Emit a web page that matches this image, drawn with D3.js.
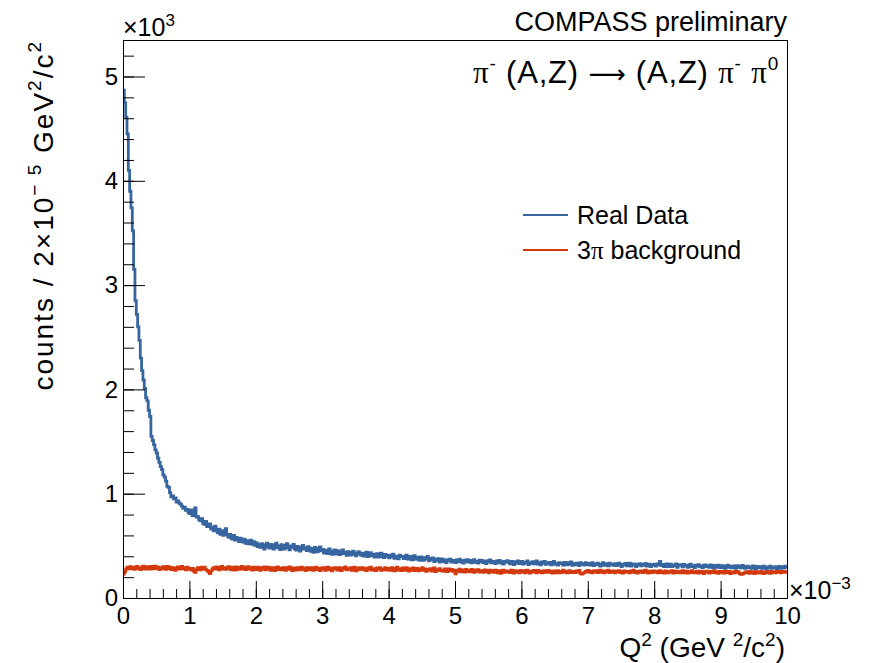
<!DOCTYPE html>
<html>
<head>
<meta charset="utf-8">
<script src="https://cdn.jsdelivr.net/npm/d3@7"></script>
<style>
  body { margin: 0; background: #fff; }
  svg { display: block; }
  text { font-family: "Liberation Sans", Arial, Helvetica, sans-serif; fill: #000; }
</style>
</head>
<body>
<div id="chart"></div>
<script>
// Q^2 axis in units of 1e-3 GeV^2/c^2, 500 bins of 2e-5 GeV^2/c^2
const xMin = 0, xMax = 10;
const yMax = 5350;

// counts per bin
const realData = [
  4870, 4750, 4610, 4450, 4100, 3900, 3740, 3520, 3150, 2850,
  2720, 2600, 2470, 2300, 2180, 2090, 2010, 1920, 1890, 1800,
  1740, 1550, 1510, 1470, 1420, 1390, 1340, 1300, 1260, 1230,
  1180, 1160, 1120, 1070, 1060, 1010, 970, 980, 950, 960,
  920, 930, 910, 900, 880, 860, 870, 840, 850, 820,
  810, 845, 790, 805, 865, 775, 780, 750, 740, 760,
  715, 705, 735, 685, 690, 710, 660, 680, 645, 690,
  650, 625, 660, 610, 645, 600, 630, 665, 605, 585,
  610, 575, 565, 600, 555, 580, 565, 540, 575, 545,
  535, 565, 525, 550, 520, 540, 555, 515, 540, 505,
  530, 492, 515, 485, 520, 498, 470, 512, 525, 488,
  478, 515, 495, 470, 508, 525, 482, 500, 465, 512,
  505, 470, 498, 522, 480, 462, 500, 485, 515, 472,
  460, 495, 478, 450, 488, 505, 468, 482, 455, 492,
  480, 448, 472, 438, 485, 460, 442, 478, 490, 452,
  465, 430, 458, 440, 425, 470, 445, 418, 452, 462,
  420, 455, 432, 415, 448, 462, 425, 440, 410, 445,
  440, 412, 435, 450, 418, 405, 432, 445, 420, 408,
  430, 402, 425, 440, 398, 415, 435, 405, 420, 392,
  415, 425, 392, 410, 430, 398, 388, 418, 400, 412,
  385, 410, 395, 420, 380, 402, 392, 375, 412, 398,
  400, 378, 392, 410, 372, 385, 398, 365, 390, 405,
  370, 392, 380, 360, 395, 375, 362, 388, 372, 398,
  355, 380, 365, 385, 350, 372, 360, 378, 345, 370,
  375, 350, 362, 340, 368, 355, 372, 345, 360, 352,
  340, 365, 350, 372, 345, 358, 335, 362, 350, 368,
  345, 360, 338, 355, 368, 342, 350, 335, 362, 348,
  360, 340, 352, 330, 358, 345, 365, 338, 350, 342,
  330, 355, 340, 360, 335, 348, 325, 352, 342, 358,
  345, 328, 352, 338, 320, 348, 335, 355, 330, 342,
  350, 325, 342, 335, 355, 320, 340, 332, 348, 328,
  340, 355, 325, 338, 318, 345, 332, 350, 322, 338,
  328, 342, 318, 335, 350, 322, 332, 315, 340, 330,
  335, 315, 342, 325, 318, 338, 322, 345, 312, 330,
  318, 335, 325, 310, 340, 322, 330, 315, 338, 320,
  332, 315, 325, 340, 310, 328, 318, 335, 322, 305,
  325, 338, 312, 322, 330, 308, 335, 318, 325, 312,
  330, 310, 322, 335, 315, 302, 325, 318, 332, 308,
  320, 335, 305, 318, 328, 312, 300, 325, 315, 330,
  308, 322, 315, 332, 305, 318, 325, 300, 320, 312,
  325, 305, 318, 330, 350, 310, 322, 300, 315, 328,
  302, 318, 325, 300, 315, 308, 328, 295, 312, 320,
  315, 298, 322, 305, 312, 295, 318, 325, 300, 310,
  292, 315, 305, 320, 298, 308, 290, 312, 318, 300,
  310, 295, 318, 300, 288, 312, 305, 295, 315, 302,
  292, 310, 298, 285, 305, 315, 295, 302, 288, 308,
  300, 285, 310, 295, 305, 290, 312, 298, 285, 302,
  305, 290, 298, 285, 308, 295, 282, 302, 295, 288,
  300, 285, 305, 292, 280, 298, 290, 305, 285, 295,
  288, 300, 282, 295, 302, 285, 298, 290, 305, 295
];

const bkg3pi = [
  228, 250, 278, 295, 280, 300, 282, 296, 275, 290,
  302, 280, 292, 272, 298, 305, 282, 276, 300, 288,
  278, 302, 288, 280, 305, 284, 296, 272, 292, 280,
  300, 285, 275, 302, 282, 296, 272, 290, 280, 265,
  288, 298, 276, 292, 302, 280, 290, 270, 296, 284,
  276, 268, 285, 258, 245, 272, 290, 282, 270, 295,
  280, 296, 272, 265, 250, 235, 258, 278, 292, 276,
  298, 282, 270, 294, 302, 278, 292, 275, 290, 300,
  282, 270, 295, 280, 268, 298, 284, 274, 292, 302,
  276, 295, 272, 288, 300, 276, 292, 268, 295, 282,
  272, 296, 282, 265, 292, 276, 298, 270, 286, 295,
  275, 266, 292, 280, 262, 290, 298, 272, 286, 270,
  292, 276, 264, 290, 274, 298, 280, 262, 288, 276,
  268, 292, 280, 270, 296, 274, 286, 262, 290, 278,
  270, 292, 276, 264, 288, 296, 272, 284, 262, 288,
  274, 290, 265, 282, 296, 270, 286, 260, 280, 292,
  280, 268, 292, 274, 262, 288, 276, 298, 270, 282,
  274, 290, 265, 280, 295, 260, 284, 270, 290, 278,
  292, 270, 282, 262, 288, 274, 295, 268, 282, 272,
  262, 288, 274, 290, 265, 280, 270, 292, 268, 284,
  278, 264, 290, 272, 260, 284, 295, 268, 280, 262,
  288, 272, 264, 290, 276, 258, 282, 268, 288, 262,
  272, 285, 260, 278, 266, 290, 264, 280, 255, 274,
  268, 282, 258, 276, 288, 254, 272, 264, 282, 260,
  266, 256, 280, 270, 252, 278, 262, 274, 255, 268,
  232, 266, 255, 276, 250, 270, 260, 248, 274, 256,
  264, 250, 274, 258, 246, 270, 256, 272, 248, 262,
  260, 246, 270, 254, 264, 242, 268, 252, 262, 245,
  266, 250, 242, 262, 236, 256, 268, 246, 260, 250,
  258, 244, 266, 250, 238, 262, 248, 258, 242, 264,
  250, 262, 242, 256, 266, 246, 238, 258, 248, 265,
  255, 242, 264, 248, 258, 240, 252, 262, 245, 256,
  264, 246, 256, 238, 260, 250, 242, 262, 252, 240,
  256, 266, 246, 258, 240, 252, 262, 244, 256, 248,
  244, 260, 250, 264, 236, 230, 238, 242, 254, 260,
  264, 246, 256, 240, 260, 250, 262, 244, 252, 266,
  246, 258, 240, 260, 250, 266, 244, 254, 248, 260,
  242, 258, 250, 262, 244, 254, 238, 260, 248, 256,
  252, 240, 260, 248, 266, 244, 254, 238, 258, 248,
  260, 244, 254, 266, 248, 238, 258, 250, 244, 260,
  248, 258, 240, 254, 262, 244, 252, 238, 260, 248,
  242, 256, 248, 262, 238, 252, 258, 244, 254, 240,
  252, 262, 240, 248, 258, 238, 252, 244, 262, 248,
  240, 252, 258, 238, 248, 256, 244, 234, 252, 258,
  248, 238, 256, 244, 252, 262, 240, 250, 236, 256,
  246, 254, 238, 258, 248, 240, 256, 234, 250, 246,
  240, 256, 246, 252, 234, 226, 228, 236, 244, 252,
  248, 236, 254, 242, 250, 234, 256, 242, 250, 238,
  254, 242, 234, 250, 240, 256, 246, 236, 254, 244,
  250, 240, 254, 246, 256, 242, 250, 258, 246, 252
];

const xMajor = d3.range(0, 11);
const xMinor = d3.range(0, 51).map(i => i * 0.2);
const yMajor = [0, 1000, 2000, 3000, 4000, 5000];
const yMinor = d3.range(0, 27).map(i => i * 200);

const W = 871, H = 663;
const frame = { left: 123, right: 787, top: 40, bottom: 598 };
const blue = "#36659f";
const red = "#d4380d";
const serif = "'Liberation Serif', 'DejaVu Serif', serif";
const symbol = "'DejaVu Sans', sans-serif";

const svg = d3.select("#chart").append("svg")
    .attr("width", W)
    .attr("height", H);

svg.append("rect").attr("width", W).attr("height", H).attr("fill", "#fff");

const x = d3.scaleLinear().domain([xMin, xMax]).range([frame.left, frame.right]);
const y = d3.scaleLinear().domain([0, yMax]).range([frame.bottom, frame.top]);

svg.append("clipPath").attr("id", "plotClip")
  .append("rect")
    .attr("x", frame.left).attr("y", frame.top)
    .attr("width", frame.right - frame.left)
    .attr("height", frame.bottom - frame.top);

// histogram as steps
function stepPoints(vals) {
    const w = (xMax - xMin) / vals.length;
    const pts = [];
    vals.forEach((v, i) => {
        pts.push([xMin + i * w, v]);
        pts.push([xMin + (i + 1) * w, v]);
    });
    return pts;
}
const line = d3.line().x(d => x(d[0])).y(d => y(d[1]));

const plot = svg.append("g").attr("clip-path", "url(#plotClip)");
plot.append("path")
    .attr("d", line(stepPoints(bkg3pi)))
    .attr("fill", "none").attr("stroke", red).attr("stroke-width", 2.8);
plot.append("path")
    .attr("d", line(stepPoints(realData)))
    .attr("fill", "none").attr("stroke", blue).attr("stroke-width", 2.8);

// axes, ticks pointing inwards
function noDomain(g) { g.select(".domain").remove(); }

svg.append("g")
    .attr("transform", `translate(0,${frame.bottom})`)
    .call(d3.axisBottom(x).tickValues(xMinor).tickSize(-9))
    .call(noDomain)
    .call(g => g.selectAll("text").remove());
svg.append("g")
    .attr("transform", `translate(0,${frame.bottom})`)
    .call(d3.axisBottom(x).tickValues(xMajor).tickSize(-17).tickPadding(9).tickFormat(d3.format("d")))
    .call(noDomain)
    .call(g => g.selectAll("text").attr("font-size", 24).attr("font-family", null));

svg.append("g")
    .attr("transform", `translate(${frame.left},0)`)
    .call(d3.axisLeft(y).tickValues(yMinor).tickSize(-11))
    .call(noDomain)
    .call(g => g.selectAll("text").remove());
svg.append("g")
    .attr("transform", `translate(${frame.left},0)`)
    .call(d3.axisLeft(y).tickValues(yMajor).tickSize(-22).tickPadding(5).tickFormat(d => d / 1000))
    .call(noDomain)
    .call(g => g.selectAll("text").attr("font-size", 24).attr("font-family", null));

svg.selectAll(".tick line").attr("stroke", "#000");

svg.append("rect")
    .attr("x", frame.left + 0.5).attr("y", frame.top + 0.5)
    .attr("width", frame.right - frame.left)
    .attr("height", frame.bottom - frame.top)
    .attr("fill", "none").attr("stroke", "#000").attr("stroke-width", 1);

// text with superscripts: parts = [[text, isSup, fontFamily, fontSize], ...]
function richText(sel, parts, supSize, rise) {
    let raised = false;
    parts.forEach(([t, sup, fam, size]) => {
        const ts = sel.append("tspan").text(t);
        if (fam) ts.style("font-family", fam);
        if (size) ts.attr("font-size", size);
        if (sup) {
            ts.attr("font-size", supSize).attr("dy", raised ? 0 : -rise);
            raised = true;
        } else if (raised) {
            ts.attr("dy", rise);
            raised = false;
        }
    });
    return sel;
}

// exponents
richText(svg.append("text").attr("x", frame.left).attr("y", 36).attr("font-size", 25),
    [["\u00d710", false], ["3", true]], 17, 10);
richText(svg.append("text").attr("x", frame.right + 2).attr("y", 599).attr("font-size", 25),
    [["\u00d710", false], ["\u22123", true]], 17, 10);

// axis titles
richText(svg.append("text")
        .attr("text-anchor", "end")
        .attr("x", frame.right - 2).attr("y", 657)
        .attr("font-size", 28),
    [["Q", false], ["2", true], [" (GeV ", false], ["2", true], ["/c", false], ["2", true], [")", false]], 19, 11);

richText(svg.append("text")
        .attr("text-anchor", "end")
        .attr("transform", `translate(53,${frame.top}) rotate(-90)`)
        .attr("font-size", 28)
        .attr("letter-spacing", 2),
    [["counts / 2\u00d710", false], ["\u2212 5", true], [" GeV", false], ["2", true], ["/c", false], ["2", true]], 19, 12);

// labels
svg.append("text")
    .attr("text-anchor", "end")
    .attr("x", frame.right).attr("y", 31)
    .attr("font-size", 27)
    .text("COMPASS preliminary");

richText(svg.append("text")
        .attr("text-anchor", "end")
        .attr("x", frame.right - 8).attr("y", 83)
        .attr("font-size", 31)
        .attr("letter-spacing", 0.8),
    [["\u03c0", false, serif], ["-", true], ["  (A,Z)  ", false], ["\u27f6", false, symbol, 26], ["  (A,Z) ", false],
     ["\u03c0", false, serif], ["-", true], ["  ", false], ["\u03c0", false, serif], ["0", true]], 19, 13);

// legend
const legendItems = [
    { label: [["Real Data"]], color: blue },
    { label: [["3"], ["\u03c0", serif], [" background"]], color: red }
];
const lg = svg.append("g");
legendItems.forEach((d, i) => {
    const yy = 215 + i * 35;
    lg.append("line")
        .attr("x1", 523).attr("x2", 568)
        .attr("y1", yy).attr("y2", yy)
        .attr("stroke", d.color).attr("stroke-width", 2.2);
    const t = lg.append("text").attr("x", 577).attr("y", yy + 9).attr("font-size", 25);
    d.label.forEach(([s, fam]) => {
        const ts = t.append("tspan").text(s);
        if (fam) ts.style("font-family", fam);
    });
});
</script>
</body>
</html>
